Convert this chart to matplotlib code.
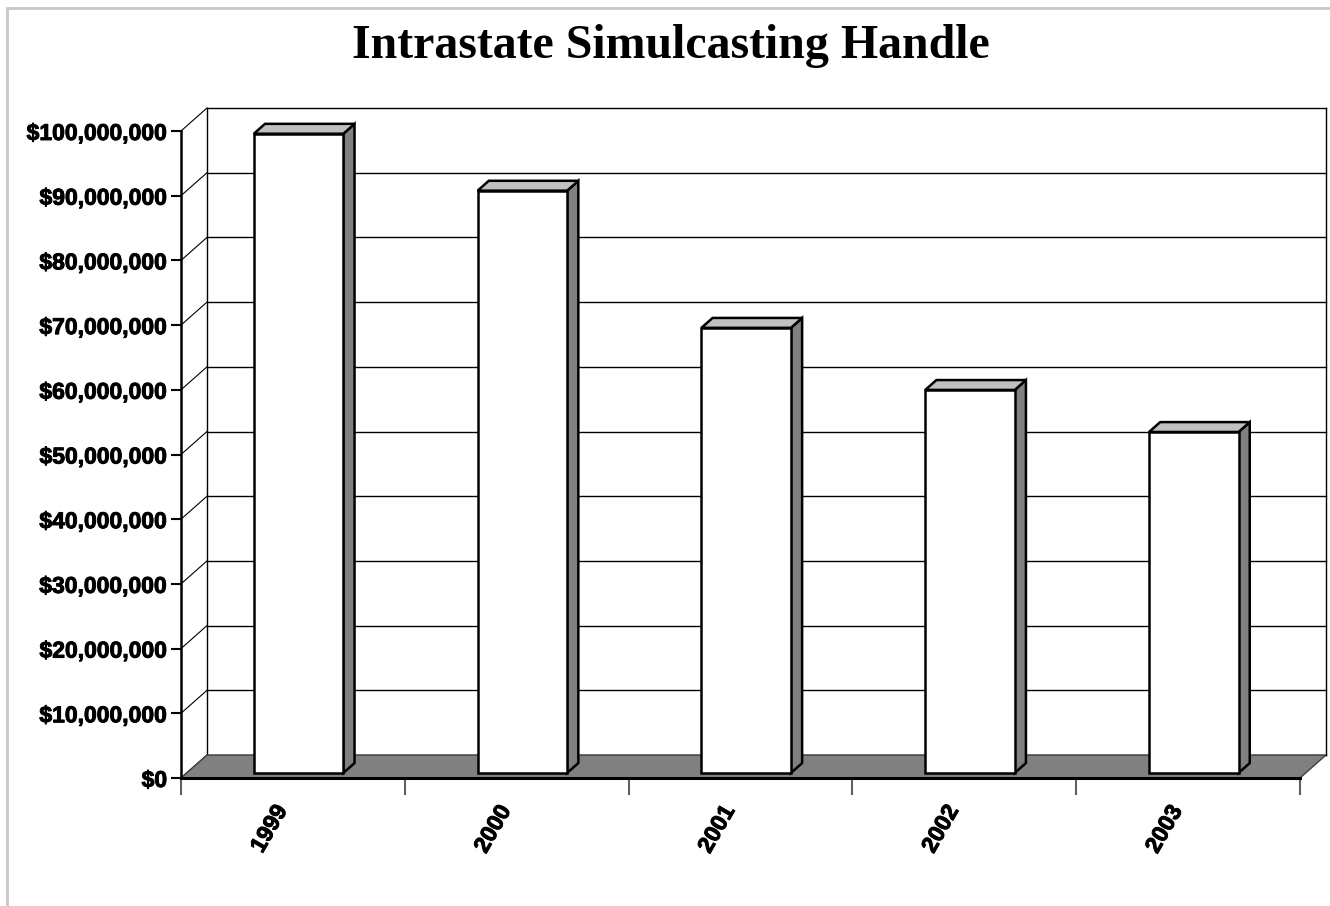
import numpy as np
import matplotlib
matplotlib.use('Agg')
import matplotlib.pyplot as plt
import matplotlib.patheffects as pe
from matplotlib.patches import Polygon, Rectangle
from matplotlib.transforms import ScaledTranslation

# data
years = ['1999', '2000', '2001', '2002', '2003']
handle = [98.8e6, 90.0e6, 68.8e6, 59.2e6, 52.7e6]
yticks = np.arange(0, 100e6 + 1, 10e6)
title = 'Intrastate Simulcasting Handle'

# fake 3d depth (category units / value units)
DX = 0.116
DY = 3.55e6
f0, f1 = 0.22, 0.65
bar_w = 0.4

heavy = [pe.withStroke(linewidth=0.7, foreground='black')]

fig = plt.figure(figsize=(13.3, 9.06), dpi=100)
ax = fig.add_axes([181 / 1330, 1 - 778 / 906, 1119 / 1330, 647 / 906])
ax.set_xlim(-0.5, len(years) - 0.5)
ax.set_ylim(0, 100e6)
ax.patch.set_alpha(0)

x_lo, x_hi = -0.5, len(years) - 0.5
top = yticks[-1]

# back wall + gridlines
for v in yticks:
    ax.plot([x_lo + DX, x_hi + DX], [v + DY, v + DY], color='black', lw=1, clip_on=False, zorder=1)
    # left side wall lines
    ax.plot([x_lo, x_lo + DX], [v, v + DY], color='black', lw=0.8, clip_on=False, zorder=1)
ax.plot([x_lo + DX, x_lo + DX], [DY, top + DY], color='black', lw=1, clip_on=False, zorder=1)
ax.plot([x_hi + DX, x_hi + DX], [DY, top + DY], color='black', lw=1, clip_on=False, zorder=1)

# floor
floor = Polygon([[x_lo, 0], [x_hi, 0], [x_hi + DX, DY], [x_lo + DX, DY]], closed=True,
                facecolor='#808080', edgecolor='#404040', lw=1, clip_on=False, zorder=2)
ax.add_patch(floor)

# bars
for i, v in enumerate(handle):
    x0 = i - bar_w / 2 + f0 * DX
    x1 = i + bar_w / 2 + f0 * DX
    y0 = f0 * DY
    y1 = v + f0 * DY
    ddx = (f1 - f0) * DX
    ddy = (f1 - f0) * DY
    side = Polygon([[x1, y0], [x1 + ddx, y0 + ddy], [x1 + ddx, y1 + ddy], [x1, y1]],
                   facecolor='#808080', edgecolor='black', lw=1.8, clip_on=False, zorder=3)
    topf = Polygon([[x0, y1], [x1, y1], [x1 + ddx, y1 + ddy], [x0 + ddx, y1 + ddy]],
                   facecolor='#c0c0c0', edgecolor='black', lw=1.8, clip_on=False, zorder=3)
    front = Polygon([[x0, y0], [x1, y0], [x1, y1], [x0, y1]],
                    facecolor='white', edgecolor='black', lw=1.8, clip_on=False, zorder=4)
    ax.add_patch(side)
    ax.add_patch(topf)
    ax.add_patch(front)

# axes
for s in ['top', 'right']:
    ax.spines[s].set_visible(False)
ax.spines['left'].set_linewidth(1.8)
ax.spines['bottom'].set_linewidth(2.2)
ax.spines['left'].set_zorder(5)
ax.spines['bottom'].set_zorder(5)

ax.set_yticks(yticks)
ax.set_yticklabels(['${:,.0f}'.format(v) for v in yticks],
                   fontfamily='Liberation Sans', fontweight='bold', fontsize=16.5)
for lab in ax.get_yticklabels():
    lab.set_path_effects(heavy)
ax.tick_params(axis='y', direction='out', length=7, width=1.5, pad=3)

ax.set_xticks(np.arange(-0.5, len(years), 1.0))
ax.set_xticklabels([])
ax.tick_params(axis='x', which='major', direction='out', length=12, width=1.5, color='#606060')

# category labels, rotated
off = ScaledTranslation(-11 / 100, -29 / 100, fig.dpi_scale_trans)
for i, yr in enumerate(years):
    ax.text(i, 0, yr, rotation=60, ha='right', va='center', rotation_mode='anchor',
            fontfamily='Liberation Sans', fontweight='bold', fontsize=16.5,
            transform=ax.transData + off, clip_on=False, path_effects=heavy)

fig.text(671 / 1330, 1 - 58 / 906, title, ha='center', va='baseline',
         fontfamily='Liberation Serif', fontweight='bold', fontsize=34.5)

# outer chart frame (only left/top visible)
fig.patches.append(Rectangle((6.5 / 1330, -0.5), 2, 1.5 - 7.5 / 906, transform=fig.transFigure,
                             fill=False, edgecolor='#c8c8c8', lw=2))

fig.savefig('out.png', dpi=100)
